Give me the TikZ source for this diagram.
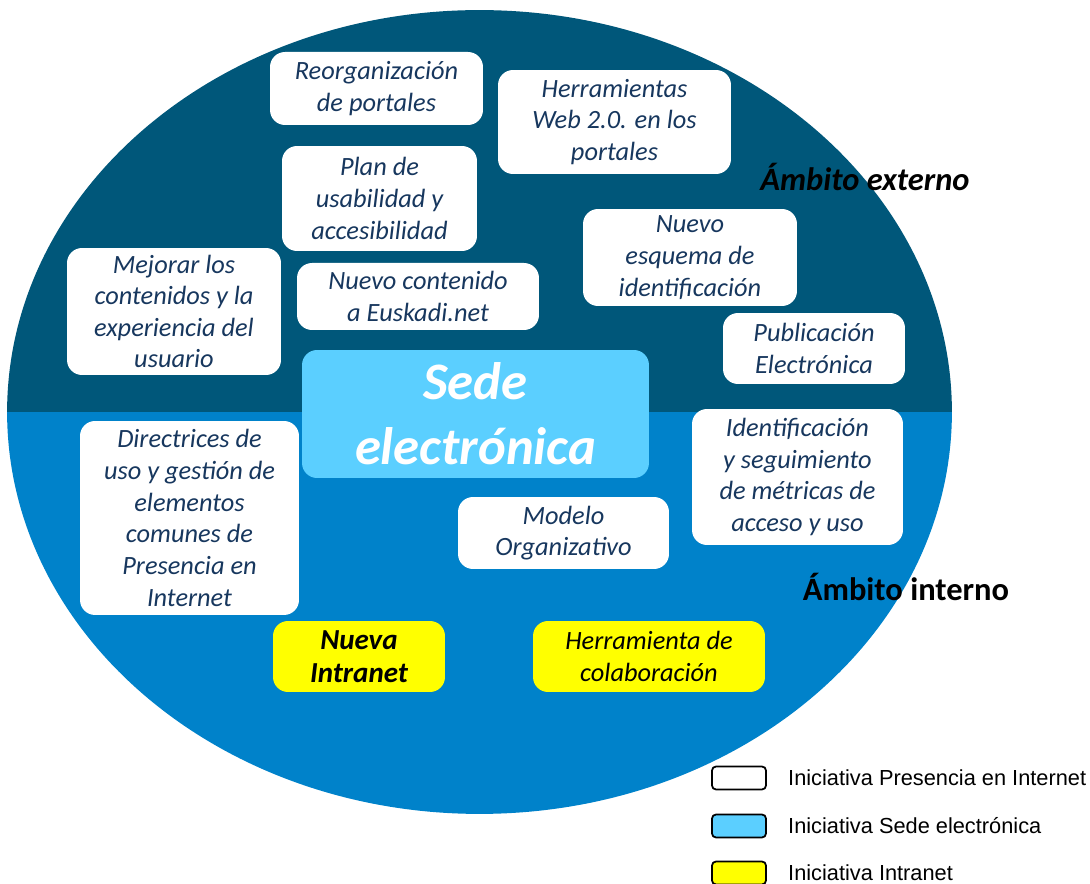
\documentclass[tikz,border=0pt]{standalone}
\usepackage{fontspec}
\setmainfont{Carlito}
\newfontfamily\legendfont{Liberation Sans}
\usetikzlibrary{positioning}
\definecolor{externblue}{RGB}{0,87,122}
\definecolor{internblue}{RGB}{0,130,202}
\definecolor{sedeblue}{RGB}{91,207,255}
\definecolor{textnavy}{RGB}{23,55,94}
\definecolor{intrayellow}{RGB}{255,255,0}

\begin{document}
\begin{tikzpicture}[x=0.02cm, y=-0.02cm,
    ini/.style={fill=white, rounded corners=0.3cm, align=center, inner sep=0pt,
        text=textnavy, font=\fontsize{15}{18}\selectfont\itshape},
    sede/.style={ini, fill=sedeblue, text=white, font=\fontsize{30}{37}\selectfont\bfseries\itshape},
    intra/.style={ini, fill=intrayellow, text=black},
    ambito/.style={font=\fontsize{18.5}{22}\selectfont\bfseries},
    leg/.style={draw=black, line width=1pt, rounded corners=0.08cm,
        minimum width=1.08cm, minimum height=0.46cm, inner sep=0pt},
    legtext/.style={anchor=west, inner sep=0pt, font=\legendfont\fontsize{12.4}{14}\selectfont}
]
\useasboundingbox (0,0) rectangle (1090,884);

% ambitos
\begin{scope}
\clip (479.5,412) ellipse [x radius=9.45cm, y radius=8.04cm];
\fill[externblue] (0,0) rectangle (1090,412);
\fill[internblue] (0,412) rectangle (1090,884);
\end{scope}

\node[ini, minimum width=4.26cm, minimum height=1.46cm] (reorg) at (376.5,88.5) {Reorganización\\de portales};
\node[ini, minimum width=4.66cm, minimum height=2.08cm] (web) at (614.5,122) {Herramientas\\Web 2.0. en los\\portales};
\node[ini, minimum width=3.9cm, minimum height=2.1cm] (plan) at (379.5,198.5) {Plan de\\usabilidad y\\accesibilidad};
\node[ini, minimum width=4.28cm, minimum height=2.54cm] (mejorar) at (174,311.5) {Mejorar los\\contenidos y la\\experiencia del\\usuario};
\node[ini, minimum width=4.84cm, minimum height=1.34cm] (euskadi) at (418,296.5) {Nuevo contenido\\a Euskadi.net};
\node[ini, minimum width=4.28cm, minimum height=1.94cm] (esquema) at (690,257.5) {Nuevo\\esquema de\\identificación};
\node[ini, minimum width=3.64cm, minimum height=1.42cm] (publi) at (814,348.5) {Publicación\\Electrónica};

\node[sede, minimum width=6.94cm, minimum height=2.56cm] (sede) at (475.5,414) {Sede\\electrónica};

\node[ini, minimum width=4.38cm, minimum height=3.88cm] (direc) at (189.5,518) {Directrices de\\uso y gestión de\\elementos\\comunes de\\Presencia en\\Internet};
\node[ini, minimum width=4.22cm, minimum height=2.72cm] (metricas) at (797.5,477) {Identificación\\y seguimiento\\de métricas de\\acceso y uso};
\node[ini, minimum width=4.22cm, minimum height=1.44cm] (modelo) at (563.5,533) {Modelo\\Organizativo};

\node[intra, minimum width=3.44cm, minimum height=1.42cm, font=\fontsize{16.5}{18.5}\selectfont\bfseries\itshape] (intranet) at (359,656.5) {Nueva\\Intranet};
\node[intra, minimum width=4.64cm, minimum height=1.42cm] (colab) at (649,656.5) {Herramienta de\\colaboración};

\node[ambito, font=\fontsize{18.5}{22}\selectfont\bfseries\itshape] (externo) at (865,177) {Ámbito externo};
\node[ambito] (interno) at (906,587) {Ámbito interno};

% leyenda
\foreach \y/\col/\txt in {
    778/white/{Iniciativa Presencia en Internet},
    826/sedeblue/{Iniciativa Sede electrónica},
    873/intrayellow/{Iniciativa Intranet}} {
    \node[leg, fill=\col] (leg\y) at (739,\y) {};
    \node[legtext, right=0.42cm of leg\y] {\txt};
}
\end{tikzpicture}
\end{document}
